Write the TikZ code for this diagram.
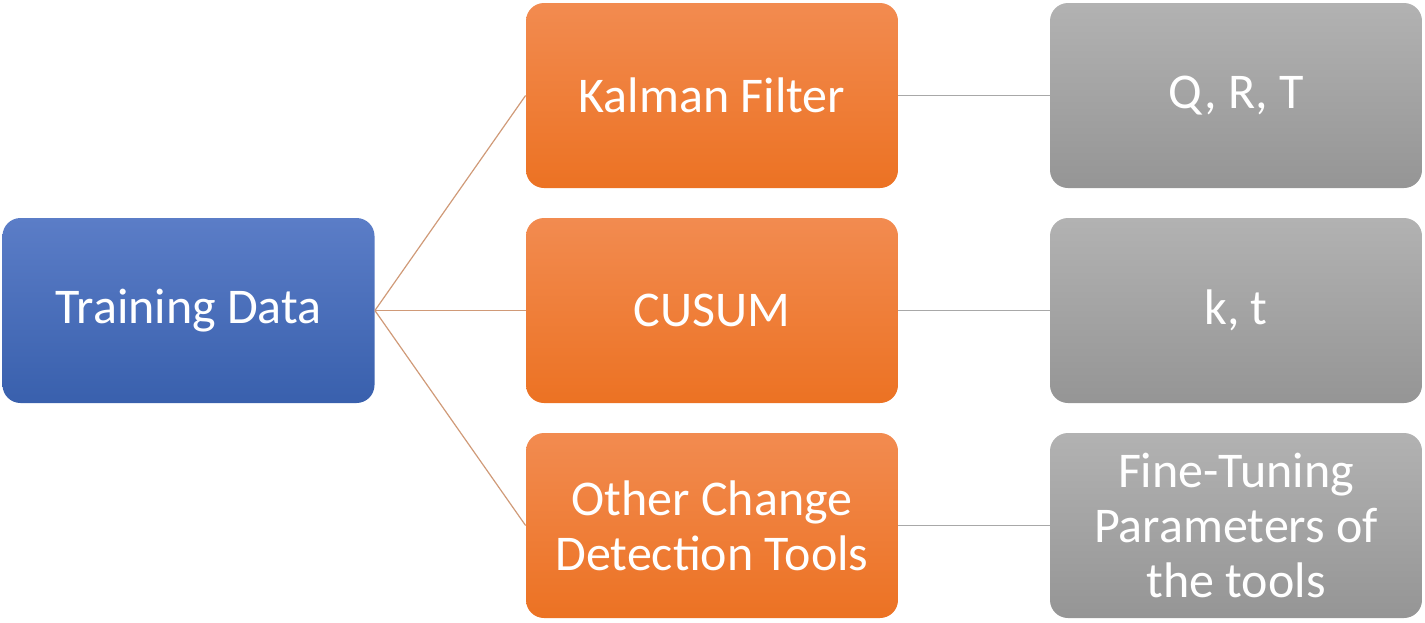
\documentclass[tikz,border=0pt]{standalone}
\usepackage{fontspec}
\setmainfont{Carlito}
\definecolor{bluetop}{HTML}{5B7DC7}
\definecolor{bluebot}{HTML}{3960AD}
\definecolor{orgtop}{HTML}{F28B50}
\definecolor{orgbot}{HTML}{EC7223}
\definecolor{graytop}{HTML}{B2B2B2}
\definecolor{graybot}{HTML}{959595}
\definecolor{linkA}{HTML}{D09A78}
\definecolor{linkB}{HTML}{A8A8A8}
\tikzset{
  box/.style={rounded corners=9pt, minimum width=186pt, minimum height=92.5pt,
    inner sep=0pt, text=white, align=center, font=\fontsize{25}{27.5}\selectfont},
  bluebox/.style={box, top color=bluetop, bottom color=bluebot},
  orangebox/.style={box, top color=orgtop, bottom color=orgbot},
  graybox/.style={box, top color=graytop, bottom color=graybot},
  linkone/.style={draw=linkA, line width=0.6pt},
  linktwo/.style={draw=linkB, line width=0.6pt}
}
\begin{document}
\begin{tikzpicture}[x=0.5pt,y=-0.5pt]
\useasboundingbox (0,0) rectangle (1425,622);
\node[bluebox] (td) at (188.5,310.5) {Training Data};
\node[orangebox] (kf) at (712,95.5) {Kalman Filter};
\node[orangebox] (cu) at (712,310.5) {CUSUM};
\node[orangebox] (oc) at (712,525.5) {Other Change\\Detection Tools};
\node[graybox] (qrt) at (1236,95.5) {Q, R, T};
\node[graybox] (kt) at (1236,310.5) {k, t};
\node[graybox] (ft) at (1236,525.5) {Fine-Tuning\\Parameters of\\the tools};
\draw[linkone] (td.east) -- (kf.west);
\draw[linkone] (td.east) -- (cu.west);
\draw[linkone] (td.east) -- (oc.west);
\draw[linktwo] (kf.east) -- (qrt.west);
\draw[linktwo] (cu.east) -- (kt.west);
\draw[linktwo] (oc.east) -- (ft.west);
\end{tikzpicture}
\end{document}
